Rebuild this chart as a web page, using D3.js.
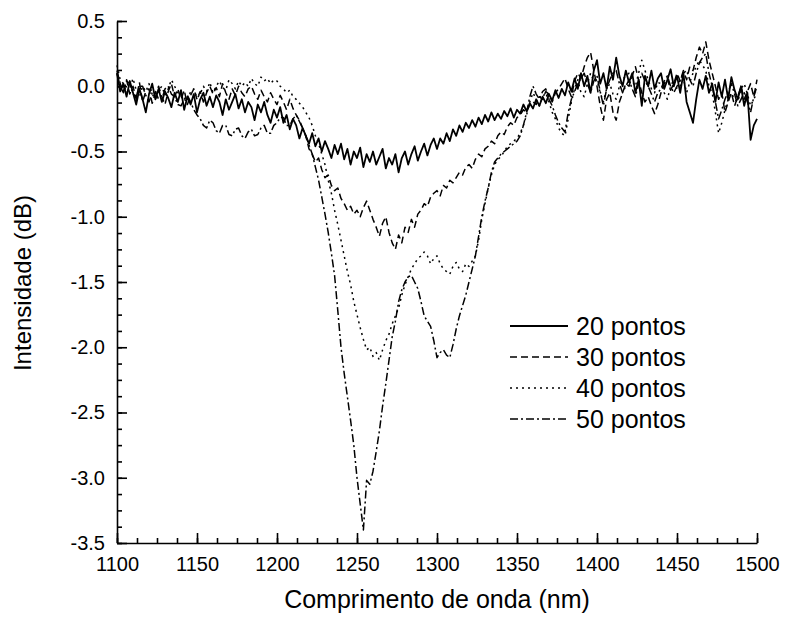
<!DOCTYPE html>
<html>
<head>
<meta charset="utf-8">
<script src="https://cdn.jsdelivr.net/npm/d3@7"></script>
<style>
  body { margin: 0; background: #fff; }
  svg text { font-family: "Liberation Sans", Arial, sans-serif; fill: #000; }
</style>
</head>
<body>
<div id="chart"></div>
<script>
// wavelength grid, 2 nm apart
let wavelengths = d3.range(1100, 1501, 2);

let s20 = [
  0.1,-0.04,0.02,-0.08,0.04,-0.05,-0.14,-0.02,-0.1,-0.2,
  -0.06,0.02,-0.1,-0.02,-0.12,-0.04,-0.09,-0.16,-0.05,-0.12,
  -0.03,-0.18,-0.08,-0.14,-0.06,-0.2,-0.1,-0.05,-0.15,-0.08,
  -0.16,-0.07,-0.12,-0.22,-0.1,-0.18,-0.12,-0.06,-0.17,-0.1,
  -0.2,-0.12,-0.16,-0.26,-0.14,-0.2,-0.12,-0.22,-0.28,-0.18,
  -0.24,-0.16,-0.28,-0.22,-0.33,-0.25,-0.3,-0.4,-0.32,-0.38,
  -0.44,-0.36,-0.46,-0.4,-0.5,-0.42,-0.48,-0.55,-0.45,-0.52,
  -0.44,-0.56,-0.48,-0.6,-0.5,-0.55,-0.47,-0.62,-0.52,-0.58,
  -0.5,-0.6,-0.54,-0.48,-0.63,-0.55,-0.6,-0.52,-0.66,-0.55,
  -0.5,-0.6,-0.52,-0.46,-0.57,-0.5,-0.44,-0.53,-0.45,-0.4,
  -0.48,-0.4,-0.44,-0.36,-0.42,-0.33,-0.38,-0.3,-0.35,-0.28,
  -0.32,-0.26,-0.31,-0.24,-0.29,-0.22,-0.27,-0.2,-0.26,-0.21,
  -0.25,-0.19,-0.23,-0.17,-0.24,-0.18,-0.21,-0.14,-0.19,-0.13,
  -0.17,-0.1,-0.15,-0.08,-0.13,-0.06,-0.11,-0.03,-0.09,-0.02,
  -0.07,0.03,-0.04,0.06,-0.02,0.1,0.0,0.08,-0.05,0.12,
  0.2,0.02,0.1,-0.02,0.15,0.05,0.22,0.08,0.0,0.12,
  0.03,0.1,-0.05,0.05,-0.15,0.08,0.0,0.12,-0.02,0.06,
  0.1,-0.02,0.05,0.13,0.0,0.08,-0.05,0.1,-0.12,-0.2,
  -0.28,-0.1,0.05,-0.02,0.08,-0.05,0.02,-0.12,0.03,-0.08,
  0.05,-0.1,0.07,-0.03,-0.1,0.0,-0.15,-0.05,-0.41,-0.3,
  -0.25
];
let s30 = [
  0.12,0.02,-0.04,0.05,-0.06,0.0,-0.1,0.03,-0.12,-0.04,
  -0.02,-0.13,-0.05,0.0,-0.08,-0.14,-0.04,0.02,-0.08,-0.02,
  -0.1,-0.03,-0.14,-0.07,-0.02,-0.1,-0.04,-0.12,-0.05,0.0,
  -0.06,-0.01,-0.08,0.02,-0.05,-0.1,-0.02,-0.07,0.0,-0.05,
  -0.08,-0.02,0.0,-0.06,-0.1,-0.03,-0.08,-0.12,-0.05,-0.1,
  -0.14,-0.07,-0.12,-0.18,-0.1,-0.17,-0.22,-0.26,-0.32,-0.38,
  -0.48,-0.52,-0.58,-0.55,-0.64,-0.7,-0.68,-0.76,-0.8,-0.78,
  -0.86,-0.9,-0.95,-0.92,-0.98,-0.95,-1.0,-0.93,-0.88,-0.95,
  -1.02,-1.08,-1.15,-1.05,-1.0,-1.12,-1.2,-1.25,-1.14,-1.2,
  -1.08,-1.12,-1.02,-1.08,-0.98,-0.95,-0.9,-0.92,-0.85,-0.82,
  -0.8,-0.84,-0.76,-0.78,-0.72,-0.74,-0.7,-0.66,-0.68,-0.62,
  -0.6,-0.63,-0.56,-0.52,-0.54,-0.48,-0.46,-0.42,-0.44,-0.38,
  -0.35,-0.37,-0.31,-0.28,-0.3,-0.24,-0.22,-0.18,-0.2,-0.14,
  -0.12,-0.14,-0.08,-0.1,-0.04,-0.06,-0.12,-0.05,-0.02,0.02,
  0.06,-0.02,-0.08,0.04,0.1,0.06,0.15,0.22,0.26,0.12,
  0.0,-0.15,-0.26,-0.1,-0.05,-0.2,-0.26,-0.12,-0.05,0.02,
  0.0,0.08,0.15,0.05,-0.05,-0.12,-0.08,-0.15,-0.21,-0.14,
  -0.05,0.02,0.06,-0.03,0.02,0.1,0.04,0.12,0.05,0.15,
  0.12,0.22,0.3,0.25,0.34,0.2,0.1,0.0,-0.1,-0.05,
  -0.2,-0.12,-0.05,-0.15,-0.08,0.0,-0.1,-0.04,0.02,-0.08,
  0.05
];
let s40 = [
  0.16,0.05,0.02,-0.05,-0.02,0.06,-0.03,-0.08,0.0,-0.04,
  0.02,-0.06,-0.1,-0.03,0.0,-0.07,-0.02,0.05,0.0,-0.05,
  -0.05,-0.1,-0.12,-0.04,-0.02,-0.09,-0.06,0.0,-0.04,0.03,
  -0.05,0.0,0.04,-0.01,-0.03,0.05,0.02,-0.02,0.04,0.0,
  0.03,0.0,0.06,0.02,0.0,0.07,0.04,0.06,0.02,0.05,
  0.04,0.0,-0.02,-0.05,-0.03,-0.08,-0.1,-0.13,-0.16,-0.2,
  -0.24,-0.3,-0.38,-0.44,-0.52,-0.6,-0.72,-0.82,-0.95,-1.06,
  -1.18,-1.3,-1.42,-1.52,-1.65,-1.75,-1.85,-1.94,-2.02,-2.0,
  -2.07,-2.04,-2.1,-2.02,-1.95,-1.9,-1.82,-1.76,-1.7,-1.6,
  -1.52,-1.46,-1.4,-1.36,-1.32,-1.3,-1.27,-1.3,-1.36,-1.32,
  -1.3,-1.36,-1.4,-1.42,-1.44,-1.38,-1.35,-1.4,-1.42,-1.36,
  -1.38,-1.34,-1.3,-1.18,-1.02,-0.9,-0.78,-0.68,-0.6,-0.56,
  -0.54,-0.5,-0.46,-0.44,-0.42,-0.4,-0.36,-0.3,-0.22,-0.12,
  -0.05,-0.1,-0.15,-0.08,-0.05,-0.12,-0.2,-0.25,-0.32,-0.36,
  -0.38,-0.25,-0.12,-0.02,0.05,-0.05,-0.08,0.02,0.1,0.04,
  0.05,-0.05,-0.12,-0.02,0.02,-0.06,-0.1,0.0,0.05,0.08,
  0.1,0.04,0.0,0.1,0.2,0.12,0.05,-0.02,-0.05,0.03,
  0.02,-0.05,-0.1,0.0,0.05,-0.02,0.0,0.06,-0.05,0.03,
  0.1,0.15,0.2,0.16,0.12,0.0,-0.05,-0.2,-0.36,-0.28,
  -0.18,-0.1,-0.05,-0.1,-0.12,-0.02,0.02,-0.06,-0.15,-0.1,
  -0.05
];
let s50 = [
  0.1,0.0,-0.05,0.04,0.02,-0.06,-0.08,0.0,0.0,-0.07,
  -0.12,-0.05,-0.04,-0.1,-0.1,-0.02,0.0,-0.06,-0.08,-0.14,
  -0.15,-0.1,-0.07,-0.12,-0.18,-0.22,-0.25,-0.3,-0.32,-0.26,
  -0.28,-0.34,-0.36,-0.3,-0.3,-0.37,-0.38,-0.33,-0.32,-0.38,
  -0.4,-0.35,-0.33,-0.38,-0.37,-0.32,-0.3,-0.36,-0.36,-0.3,
  -0.28,-0.24,-0.24,-0.3,-0.3,-0.25,-0.22,-0.27,-0.32,-0.38,
  -0.45,-0.52,-0.62,-0.72,-0.85,-0.98,-1.12,-1.28,-1.45,-1.72,
  -2.0,-2.2,-2.38,-2.56,-2.75,-3.0,-3.2,-3.4,-3.02,-3.05,
  -2.95,-2.8,-2.64,-2.45,-2.28,-2.1,-1.92,-1.8,-1.65,-1.56,
  -1.5,-1.46,-1.45,-1.5,-1.55,-1.65,-1.76,-1.8,-1.84,-1.95,
  -2.08,-2.04,-2.02,-2.06,-2.08,-1.98,-1.86,-1.76,-1.68,-1.6,
  -1.5,-1.4,-1.3,-1.15,-1.0,-0.88,-0.78,-0.66,-0.58,-0.55,
  -0.52,-0.5,-0.48,-0.46,-0.44,-0.42,-0.38,-0.3,-0.2,-0.08,
  0.0,-0.06,-0.1,-0.04,-0.02,-0.1,-0.15,-0.22,-0.28,-0.32,
  -0.35,-0.2,-0.1,-0.04,0.02,0.06,0.1,0.02,-0.05,0.04,
  0.08,-0.04,-0.15,-0.02,0.05,0.1,0.12,0.02,-0.05,0.0,
  0.05,-0.02,-0.08,0.02,0.1,0.04,0.0,-0.06,-0.12,-0.05,
  -0.02,0.04,0.08,0.0,-0.05,0.0,0.05,0.1,0.12,0.05,
  0.0,0.1,0.18,0.22,0.25,0.1,0.0,-0.12,-0.25,-0.18,
  -0.1,-0.04,0.02,-0.06,-0.15,-0.1,-0.05,-0.12,-0.2,-0.08,
  0.0
];

let seriesNames = ["20 pontos", "30 pontos", "40 pontos", "50 pontos"];
let seriesValues = [s20, s30, s40, s50];
let dashes = [null, "7,4", "2,4", "8,3,2,3"];

let xTicks = [1100, 1150, 1200, 1250, 1300, 1350, 1400, 1450, 1500];
let yTicks = [-3.5, -3.0, -2.5, -2.0, -1.5, -1.0, -0.5, 0.0, 0.5];

let width = 785, height = 618;

let svg = d3.select("#chart").append("svg")
    .attr("width", width)
    .attr("height", height);

let x = d3.scaleLinear().domain([1100, 1500]).range([117, 757]);
let y = d3.scaleLinear().domain([-3.5, 0.5]).range([543, 21]);

// minor ticks first
svg.append("g")
    .attr("transform", "translate(0,543)")
    .call(d3.axisBottom(x).tickValues(d3.range(1100, 1501, 12.5)).tickSize(-5).tickSizeOuter(0).tickFormat(""))
    .call(g => g.select(".domain").remove());
svg.append("g")
    .attr("transform", "translate(117,0)")
    .call(d3.axisLeft(y).tickValues(d3.range(-3.5, 0.51, 0.125)).tickSize(-5).tickSizeOuter(0).tickFormat(""))
    .call(g => g.select(".domain").remove());

let xAxis = svg.append("g")
    .attr("transform", "translate(0,543)")
    .call(d3.axisBottom(x).tickValues(xTicks).tickSize(-10).tickSizeOuter(0).tickPadding(14).tickFormat(d3.format("d")));
let yAxis = svg.append("g")
    .attr("transform", "translate(117,0)")
    .call(d3.axisLeft(y).tickValues(yTicks).tickSize(-10).tickSizeOuter(0).tickPadding(12).tickFormat(d3.format(".1f")));

svg.selectAll(".tick line, .domain")
    .attr("stroke", "#000")
    .attr("stroke-width", 1.6);
svg.selectAll(".tick text")
    .style("font-size", "20px")
    .style("font-family", "'Liberation Sans', Arial, sans-serif");
yAxis.selectAll(".tick text").text(d => d3.format(".1f")(d).replace("−", "-"));

let line = d3.line()
    .x((d, i) => x(wavelengths[i]))
    .y(d => y(d));

seriesValues.forEach(function (vals, k) {
    svg.append("path")
        .datum(vals)
        .attr("d", line)
        .attr("fill", "none")
        .attr("stroke", "#000")
        .attr("stroke-width", k === 0 ? 1.8 : 1.5)
        .attr("stroke-linejoin", "round")
        .attr("stroke-dasharray", dashes[k]);
});

// legend
let legend = svg.append("g");
seriesNames.forEach(function (name, k) {
    let cy = 326 + k * 31;
    legend.append("line")
        .attr("x1", 510).attr("x2", 568)
        .attr("y1", cy).attr("y2", cy)
        .attr("stroke", "#000")
        .attr("stroke-width", k === 0 ? 1.8 : 1.5)
        .attr("stroke-dasharray", dashes[k]);
    legend.append("text")
        .attr("x", 576)
        .attr("y", cy + 9)
        .style("font-size", "25px")
        .text(name);
});

svg.append("text")
    .attr("x", 437)
    .attr("y", 608)
    .attr("text-anchor", "middle")
    .style("font-size", "25px")
    .text("Comprimento de onda (nm)");

svg.append("text")
    .attr("transform", "translate(31,283) rotate(-90)")
    .attr("text-anchor", "middle")
    .style("font-size", "24px")
    .text("Intensidade (dB)");
</script>
</body>
</html>
